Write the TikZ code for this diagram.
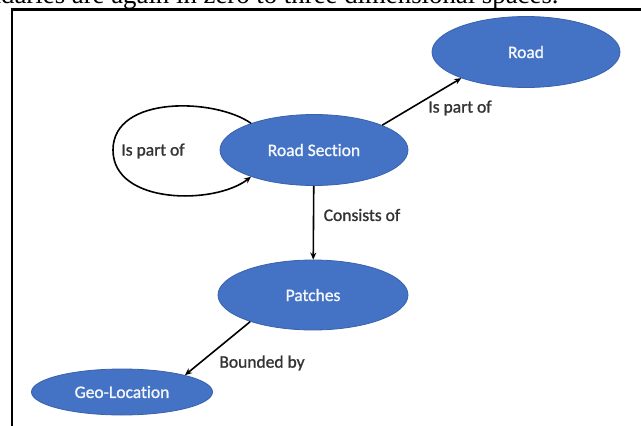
\documentclass[tikz,border=0pt]{standalone}
\usepackage{fontspec}
\setmainfont{Carlito}
\newfontfamily\labelfont{Carlito}[FakeBold=1.2, Ligatures=NoCommon]
\newfontfamily\bodyserif{Liberation Serif}
\usetikzlibrary{shapes.geometric,arrows.meta}
\definecolor{entityblue}{HTML}{4472C4}
\definecolor{entityedge}{HTML}{3A62AC}
\tikzset{
  entity/.style={ellipse, fill=entityblue, draw=entityedge, line width=0.8pt,
    text=white!94!entityblue, font=\labelfont\fontsize{17.5}{20}\selectfont, inner sep=0pt},
  relation/.style={draw=black, line width=1.6pt,
    -{Stealth[length=7pt,width=6pt]}},
  rellabel/.style={text=black!80, font=\labelfont\fontsize{17.5}{20}\selectfont, inner sep=0pt},
  framerule/.style={line width=2.6pt, draw=black}
}
\begin{document}
\begin{tikzpicture}[x=1pt,y=-1pt]
  \useasboundingbox (0,0) rectangle (641,426);
  \clip (0,0) rectangle (641,426);
  \fill[white] (0,0) rectangle (641,426);

  % running text above the figure box
  \node[anchor=base west, inner sep=0pt, font=\bodyserif\fontsize{26.8}{30}\selectfont]
    (caption) at (1,3.5) {\llap{boun}daries are again in zero to three dimensional spaces.};

  % figure box
  \coordinate (boxtl) at (12,9.5);
  \coordinate (boxtr) at (641,9.5);
  \coordinate (boxbl) at (12,426);
  \draw[framerule] (boxbl) -- (boxtl) -- (boxtr);

  % entities
  \node[entity, minimum width=188pt, minimum height=71pt] (road) at (526,52) {Road};
  \node[entity, minimum width=188pt, minimum height=71pt] (sec) at (314,150) {Road Section};
  \node[entity, minimum width=190pt, minimum height=70pt] (patches) at (313,295) {Patches};
  \node[entity, minimum width=181pt, minimum height=46pt] (geo) at (122,392) {Geo-Location};

  % relations
  \draw[relation] (sec.20) -- (road.202);
  \draw[relation] (sec) -- (patches);
  \draw[relation] (patches.203) -- (geo.15);
  \coordinate (loopleft) at (113,150);
  \draw[relation] (sec.157) .. controls (215,98) and (113,95) .. (loopleft)
    .. controls (113,205) and (215,205) .. (sec.203);

  % relation labels
  \node[rellabel] (lblloop) at (153,151) {Is part of};
  \node[rellabel] (lblroad) at (460,108) {Is part of};
  \node[rellabel] (lblcons) at (362,215) {Consists of};
  \node[rellabel] (lblbound) at (262,363) {Bounded by};
\end{tikzpicture}
\end{document}
